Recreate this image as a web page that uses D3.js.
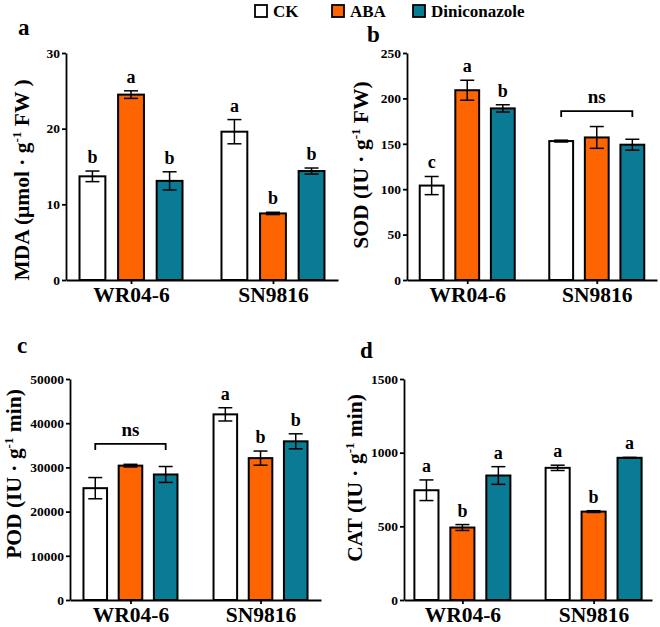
<html>
<head>
<script src="https://cdn.jsdelivr.net/npm/d3@7"></script>
<style>
  body { margin: 0; background: #fff; }
  svg, svg text { font-family: 'Liberation Serif', 'Times New Roman', Times, 'DejaVu Serif', serif !important; font-weight: bold; }
</style>
</head>
<body>
<svg id="chart" width="660" height="627"></svg>
<script>
// categories
let cultivars = ["WR04-6", "SN9816"]
let treatments = ["CK", "ABA", "Diniconazole"]
let colors = ["#ffffff", "#fe6500", "#0a7b94"]

// values per cultivar: [CK, ABA, Diniconazole]
let mdaMean = [[13.7, 24.5, 13.1], [19.6, 8.8, 14.4]]
let mdaErr  = [[0.7, 0.5, 1.2], [1.6, 0.15, 0.4]]
let mdaSig  = [["b", "a", "b"], ["a", "b", "b"]]
let mdaTicks = [0, 10, 20, 30]

let sodMean = [[104, 209, 189], [153, 157, 149]]
let sodErr  = [[10, 11, 4], [1, 12, 6]]
let sodSig  = [["c", "a", "b"], null]
let sodTicks = [0, 50, 100, 150, 200, 250]

let podMean = [[25300, 30400, 28400], [42000, 32100, 35900]]
let podErr  = [[2400, 300, 1800], [1500, 1600, 1700]]
let podSig  = [null, ["a", "b", "b"]]
let podTicks = [0, 10000, 20000, 30000, 40000, 50000]

let catMean = [[745, 492, 845], [897, 600, 965]]
let catErr  = [[70, 20, 60], [18, 6, 3]]
let catSig  = [["a", "b", "a"], ["a", "b", "a"]]
let catTicks = [0, 500, 1000, 1500]

let serif = "Liberation Serif, Times New Roman, DejaVu Serif, serif"
let svg = d3.select("#chart").attr("font-family", serif).attr("font-weight", "bold")

function drawPanel(p) {
  let g = svg.append("g")
  let y = d3.scaleLinear().domain([0, p.max]).range([p.bottom, p.top])
  let x = d3.scalePoint().domain(cultivars).range([p.left, p.right]).padding(p.pad)
  let inner = d3.scaleBand().domain(treatments).range([-p.half, p.half]).paddingInner(p.inPad)

  // bars
  p.mean.forEach((vals, gi) => {
    vals.forEach((v, ti) => {
      let bx = x(cultivars[gi]) + inner(treatments[ti])
      let cx = bx + inner.bandwidth() / 2
      g.append("rect")
        .attr("x", bx).attr("y", y(v))
        .attr("width", inner.bandwidth()).attr("height", y(0) - y(v))
        .attr("fill", colors[ti]).attr("stroke", "#000").attr("stroke-width", 2)
      let e = p.err[gi][ti]
      let eb = g.append("g").attr("stroke", "#000").attr("stroke-width", 1.5)
      eb.append("line").attr("x1", cx).attr("x2", cx).attr("y1", y(v - e)).attr("y2", y(v + e))
      eb.append("line").attr("x1", cx - 7).attr("x2", cx + 7).attr("y1", y(v - e)).attr("y2", y(v - e))
      eb.append("line").attr("x1", cx - 7).attr("x2", cx + 7).attr("y1", y(v + e)).attr("y2", y(v + e))
      if (p.sig[gi]) {
        g.append("text").attr("x", cx).attr("y", y(v + e) - 8)
          .attr("text-anchor", "middle").attr("font-size", 18).text(p.sig[gi][ti])
      }
    })
    if (!p.sig[gi]) {
      // ns bracket
      let x1 = x(cultivars[gi]) + inner("CK") + inner.bandwidth() / 2
      let x2 = x(cultivars[gi]) + inner("Diniconazole") + inner.bandwidth() / 2
      let by = y(p.nsAt)
      g.append("path")
        .attr("d", `M${x1},${by + 6}V${by}H${x2}V${by + 6}`)
        .attr("fill", "none").attr("stroke", "#000").attr("stroke-width", 1.8)
      g.append("text").attr("x", (x1 + x2) / 2).attr("y", by - 8)
        .attr("text-anchor", "middle").attr("font-size", 19).text("ns")
    }
  })

  // axes
  let ya = g.append("g").attr("transform", `translate(${p.left},0)`)
    .call(d3.axisLeft(y).tickValues(p.ticks).tickFormat(d3.format("d")).tickSize(4).tickSizeOuter(0).tickPadding(2))
  ya.attr("font-family", serif)
  ya.selectAll("text").attr("font-size", 13.5).attr("fill", "#000")
  ya.selectAll("path, line").attr("stroke", "#000").attr("stroke-width", 1.8)

  let xa = g.append("g").attr("transform", `translate(0,${p.bottom})`)
    .call(d3.axisBottom(x).tickSize(4).tickSizeOuter(0).tickPadding(3))
  xa.attr("font-family", serif)
  xa.selectAll("text").attr("font-size", 21.5).attr("fill", "#000")
  xa.selectAll("path, line").attr("stroke", "#000").attr("stroke-width", 1.8)

  // y title
  let t = g.append("text")
    .attr("transform", `translate(${p.titleX},${p.titleY}) rotate(-90)`)
    .attr("text-anchor", "middle").attr("font-size", 21.5)
  t.append("tspan").text(p.title[0])
  t.append("tspan").attr("font-size", 13).attr("dy", -8).text("-1")
  t.append("tspan").attr("dy", 8).text(p.title[1])

  // panel letter
  g.append("text").attr("x", p.tagX).attr("y", p.tagY).attr("font-size", 23).text(p.tag)
}

drawPanel({ mean: mdaMean, err: mdaErr, sig: mdaSig, ticks: mdaTicks, max: 30,
  left: 66, right: 338, top: 53, bottom: 280, pad: 0.458, half: 51.5, inPad: 0.33,
  title: ["MDA (μmol · g", " FW )"], titleX: 29, titleY: 180, tag: "a", tagX: 18, tagY: 35 })

drawPanel({ mean: sodMean, err: sodErr, sig: sodSig, ticks: sodTicks, max: 250, nsAt: 186,
  left: 407, right: 657, top: 53, bottom: 280, pad: 0.465, half: 47.5, inPad: 0.33,
  title: ["SOD (IU · g", " FW)"], titleX: 368, titleY: 165, tag: "b", tagX: 367, tagY: 42 })

drawPanel({ mean: podMean, err: podErr, sig: podSig, ticks: podTicks, max: 50000, nsAt: 35300,
  left: 70, right: 321, top: 379, bottom: 600, pad: 0.465, half: 47, inPad: 0.33,
  title: ["POD (IU · g", " min)"], titleX: 21, titleY: 474, tag: "c", tagX: 17, tagY: 353 })

drawPanel({ mean: catMean, err: catErr, sig: catSig, ticks: catTicks, max: 1500,
  left: 404, right: 652, top: 379, bottom: 600, pad: 0.445, half: 48, inPad: 0.33,
  title: ["CAT (IU · g", " min)"], titleX: 362, titleY: 478, tag: "d", tagX: 360, tagY: 358 })

// legend
let legendX = [255, 332, 413]
let legend = svg.append("g")
treatments.forEach((name, i) => {
  legend.append("rect").attr("x", legendX[i]).attr("y", 5).attr("width", 12).attr("height", 12)
    .attr("fill", colors[i]).attr("stroke", "#000").attr("stroke-width", 1.8)
  legend.append("text").attr("x", legendX[i] + 18).attr("y", 17).attr("font-size", 17).text(name)
})
</script>
</body>
</html>
